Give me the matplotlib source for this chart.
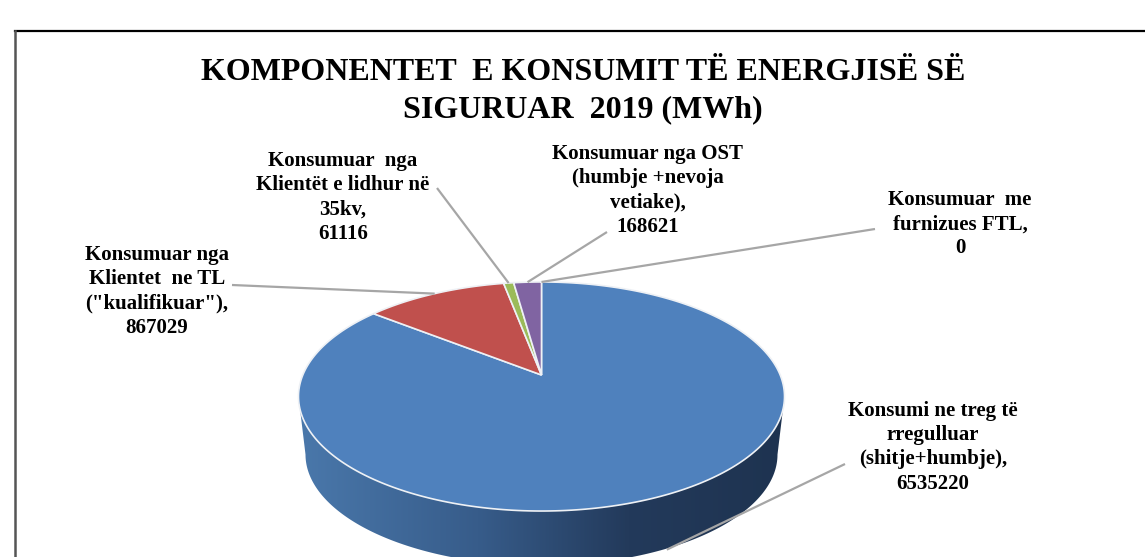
import numpy as np
import matplotlib
matplotlib.use("Agg")
import matplotlib.pyplot as plt
from matplotlib.colors import LinearSegmentedColormap
from matplotlib.patches import Polygon

# data, in slice order clockwise from the top
values = [6535220, 867029, 61116, 168621, 0]
colors = ["#4f81bd", "#c0504d", "#9bbb59", "#8064a2", "#f79646"]
label_lines = [
    ["Konsumi ne treg të", "rregulluar", "(shitje+humbje),"],
    ["Konsumuar nga", "Klientet  ne TL", '("kualifikuar"),'],
    ["Konsumuar  nga", "Klientët e lidhur në", "35kv,"],
    ["Konsumuar nga OST", "(humbje +nevoja", "vetiake),"],
    ["Konsumuar  me", "furnizues FTL,"],
]
title_lines = ["KOMPONENTET  E KONSUMIT TË ENERGJISË SË", "SIGURUAR  2019 (MWh)"]

# layout in pixels
label_x = [933, 157, 343, 648, 960]
label_y = [411, 255, 161, 154, 200]
line_gap = 24.2
leader_start = [(845, 464), (232, 285), (437, 188), (607, 232), (875, 229)]

CX, APEX_Y = 541.5, 375.0
R, B, K = 238.7, 110.5, 0.1877
DEPTH = 58


def rim(frac):
    # frac = share of the circle clockwise from top, with the pie tilted in perspective
    a = 2 * np.pi * np.asarray(frac)
    X, Y = np.sin(a), np.cos(a)
    w = 1 + K * Y
    return CX + R * X / w, APEX_Y - B * Y / w


fig = plt.figure(figsize=(11.45, 5.57), dpi=100)
ax = fig.add_axes([0, 0, 1, 1])
plt.rcParams["font.family"] = "Liberation Serif"

# side of the pie, dark to the right
t = np.linspace(0, np.pi, 200)
low_x = CX - 236 * np.cos(t)
low_y = 454.5 + 111 * np.sin(t)
top_x = CX + 243 * np.cos(t)
top_y = 396.5 + 114.5 * np.sin(t)
side = Polygon(np.column_stack([np.r_[low_x, top_x], np.r_[low_y, top_y]]), closed=True,
               facecolor="none", edgecolor="none", transform=ax.transData)
ax.add_patch(side)
grad = LinearSegmentedColormap.from_list("side", [(0, "#4a78ab"), (0.37, "#375c8a"), (0.68, "#233a5b"), (1, "#1e3350")])
im = ax.imshow(np.linspace(0, 1, 256)[None, :], cmap=grad, extent=(298, 785, 570, 396), aspect="auto", zorder=1)
im.set_clip_path(side)

# top of the pie
fracs = np.array(values) / sum(values)
edges = np.r_[0, np.cumsum(fracs)]
for i in range(len(values)):
    if fracs[i] == 0:
        continue
    f = np.linspace(edges[i], edges[i + 1], 300)
    x, y = rim(f)
    ax.fill(np.r_[CX, x], np.r_[APEX_Y, y], facecolor=colors[i], edgecolor="#eef1f5", linewidth=1.2, zorder=2)

# leader lines go to the middle of each slice
for i in range(len(values)):
    x, y = rim((edges[i] + edges[i + 1]) / 2)
    if y > 400:
        y = y + DEPTH - 3
    x0, y0 = leader_start[i]
    ax.plot([x0, x], [y0, y], color="#a6a6a6", linewidth=1.6, zorder=3, solid_capstyle="butt")

# labels
for i in range(len(values)):
    lines = label_lines[i] + [str(values[i])]
    for j, s in enumerate(lines):
        ax.text(label_x[i], label_y[i] + j * line_gap, s, ha="center", va="center", fontsize=15,
                fontweight="bold", color="black", zorder=4)

# title
ax.text(583, 72, title_lines[0], ha="center", va="center", fontsize=23, fontweight="bold", color="black")
ax.text(583, 110, title_lines[1], ha="center", va="center", fontsize=23, fontweight="bold", color="black")

# frame, only top and left edges are in view
ax.plot([15, 1145], [31, 31], color="black", linewidth=1.6)
ax.plot([15, 15], [31, 557], color="#555555", linewidth=1.8)

ax.set_xlim(0, 1145)
ax.set_ylim(557, 0)
ax.axis("off")
fig.savefig("out.png", dpi=100, facecolor="white")
